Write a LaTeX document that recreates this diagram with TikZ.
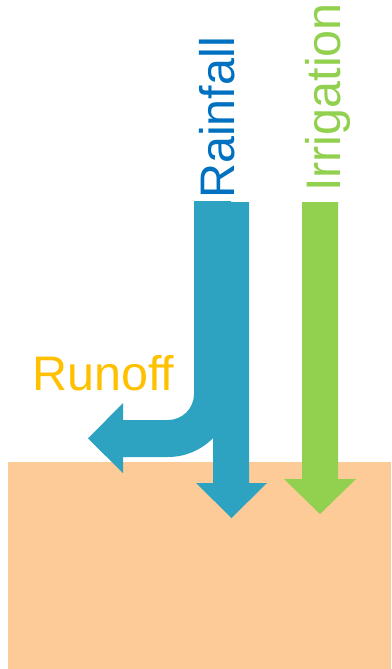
\documentclass[tikz,border=0pt]{standalone}
\usepackage{fontspec}
\setmainfont{Liberation Sans}
\usepackage{xcolor}
\usepackage{tikz}

\definecolor{soil}{HTML}{FCCB98}
\definecolor{rainwater}{HTML}{2EA3C1}
\definecolor{rainblue}{HTML}{0070C0}
\definecolor{irrigreen}{HTML}{92D050}
\definecolor{runoffamber}{HTML}{FFC000}

\tikzset{
  flowlabel/.style={inner sep=0pt, font=\fontsize{48.5}{58}\selectfont},
}

\begin{document}
\begin{tikzpicture}[x=1pt,y=-1pt]
\useasboundingbox (0,0) rectangle (391,669);
% soil block
\fill[soil] (8,462) rectangle (391,669);
% rain that bends off as runoff
\fill[rainwater] (194,201) -- (231,201) -- (231,394) arc[start angle=0, end angle=90, radius=63]
  -- (123,457) -- (123,473) -- (88,438.5) -- (123,403) -- (123,420) -- (168,420)
  arc[start angle=90, end angle=0, radius=26] -- cycle;
% rain that soaks in
\fill[rainwater] (213,202) -- (249,202) -- (249,483) -- (267,483) -- (231.5,518) -- (196,483) -- (213,483) -- cycle;
% irrigation
\fill[irrigreen] (302,202) -- (338,202) -- (338,479) -- (356,479) -- (320,514) -- (284,479) -- (302,479) -- cycle;
% labels
\node[flowlabel, text=rainblue, rotate=90, anchor=base west] (rainfall) at (234,199) {Rainfall};
\node[flowlabel, text=irrigreen, rotate=90, anchor=base west] (irrigation) at (340,192) {Irrigation};
\node[flowlabel, text=runoffamber, anchor=base west] (runoff) at (32,390) {Runoff};
\end{tikzpicture}
\end{document}
